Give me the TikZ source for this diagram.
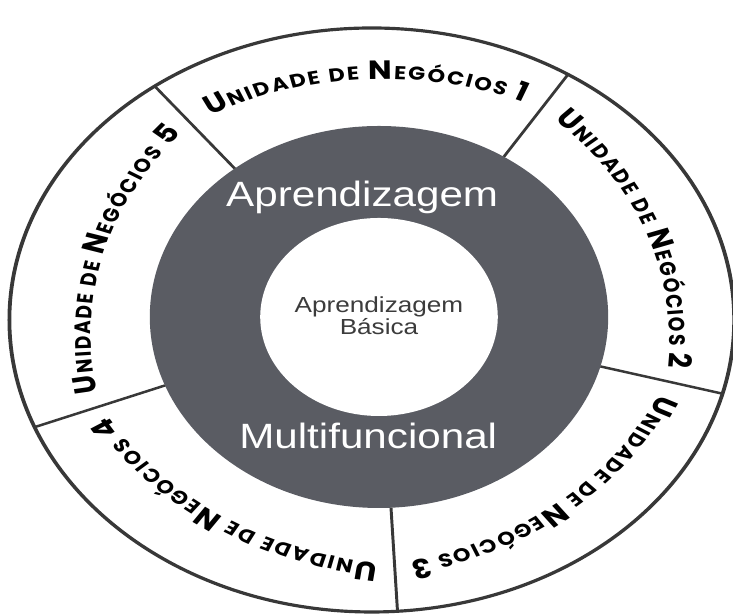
\documentclass[tikz,border=0pt]{standalone}
\usepackage{fontspec}
\setmainfont{Liberation Sans}
\newfontfamily\unitfont{Poppins}
\usepackage{tikz}
\usetikzlibrary{decorations.text}
\definecolor{ringgray}{HTML}{5A5C63}
\definecolor{rimline}{HTML}{383838}
\definecolor{coretext}{HTML}{3C3C3C}
% letters of the unit labels, with a little tracking
\newcommand{\capbig}{\unitfont\bfseries\fontsize{7.5}{8}\selectfont\kern0.45pt}
\newcommand{\capsmall}{\unitfont\bfseries\fontsize{5.3}{6}\selectfont\kern0.45pt}

\begin{document}
\begin{tikzpicture}
\useasboundingbox (-3.79,-2.99) rectangle (3.54,3.17);
\begin{scope}[transform canvas={xscale=1.2}]
% rings
\fill[ringgray] (0,0) circle (1.91);
\fill[white] (0,0) circle (0.99);
\draw[rimline,line width=0.9pt] (-0.06,-0.03) ellipse [x radius=3.02,y radius=2.92];
% five sector borders
\begin{scope}
\clip (-0.06,-0.03) ellipse [x radius=3.02,y radius=2.92];
\foreach \a in {57,129,201,273,345}
  \draw[rimline,line width=0.7pt] (\a:1.91) -- (\a:3.2);
\end{scope}
% sector labels, clockwise on a flatter arc
\foreach \secmid/\secnum in {93/1,21/2,-51/3,-123/4,165/5}
  \path[shift={(\secmid:-0.62)},decorate,decoration={text along path,text align=center,
    text/.expanded={|\noexpand\capbig|U|\noexpand\capsmall|NIDADE DE |\noexpand\capbig|N|\noexpand\capsmall|EGÓCIOS |\noexpand\capbig|\secnum}}]
    ({\secmid+32}:3.0) arc[start angle={\secmid+32},end angle={\secmid-32},radius=3.0];
\node[white,anchor=base,font=\fontsize{10}{12}\selectfont] (upper) at (-0.14,1.10) {Aprendizagem};
\node[white,anchor=base,font=\fontsize{10}{12}\selectfont] (lower) at (-0.09,-1.32) {Multifuncional};
\node[coretext,align=center,font=\fontsize{6.2}{6.3}\selectfont] (core) at (0,0.01) {Aprendizagem\\Básica};
\end{scope}
\end{tikzpicture}
\end{document}
